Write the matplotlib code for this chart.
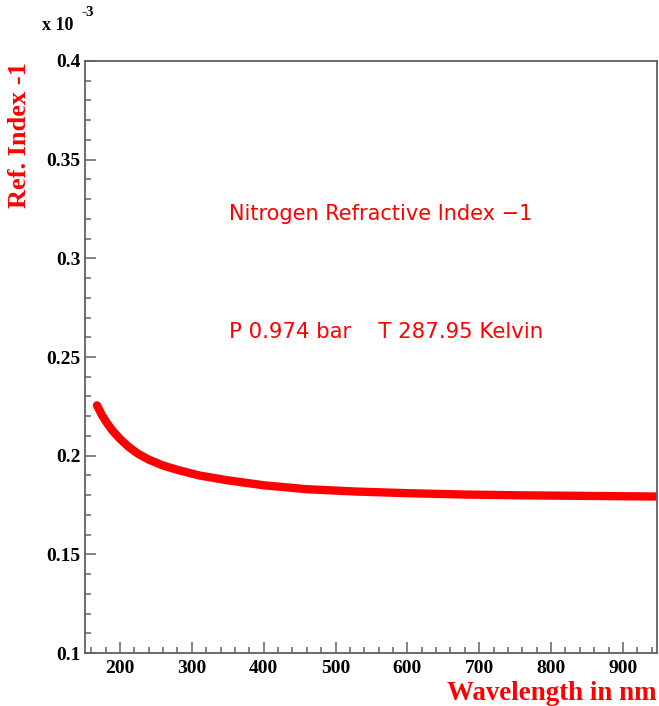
import matplotlib
matplotlib.use("Agg")
import matplotlib.pyplot as plt
from matplotlib.ticker import MultipleLocator

wavelength = [168, 175, 182, 190, 200, 212, 225, 240, 260, 283, 310, 350, 400, 460, 530, 600, 680, 760, 850, 947]
ref_index = [0.2255, 0.2205, 0.2165, 0.2125, 0.2085, 0.2045, 0.2010, 0.1980, 0.1950, 0.1925,
             0.1900, 0.1875, 0.1850, 0.1830, 0.1818, 0.1810, 0.1803, 0.1799, 0.1796, 0.1793]

W, H = 659, 706
fig = plt.figure(figsize=(W / 100, H / 100), dpi=100)
ax = fig.add_axes([85 / W, 1 - 653 / H, (657 - 85) / W, (653 - 61) / H])

ax.plot(wavelength, ref_index, color="#ff0000", lw=6, solid_capstyle="round", solid_joinstyle="round")

ax.set_xlim(151.3, 947.5)
ax.set_ylim(0.1, 0.4)
ax.xaxis.set_major_locator(MultipleLocator(100))
ax.xaxis.set_minor_locator(MultipleLocator(20))
ax.yaxis.set_major_locator(MultipleLocator(0.05))
ax.yaxis.set_minor_locator(MultipleLocator(0.01))
ax.yaxis.set_major_formatter(plt.FuncFormatter(lambda v, p: f"{v:g}"))

frame_col = "#606060"
for s in ax.spines.values():
    s.set_color(frame_col)
    s.set_linewidth(1.3)
ax.tick_params(which="both", direction="in", color=frame_col, width=1.1, right=False, top=False)
ax.tick_params(which="major", length=8)
ax.tick_params(which="minor", length=4.5)
ax.tick_params(axis="x", which="major", pad=5)
ax.tick_params(axis="y", which="major", pad=3)
for lab in ax.get_xticklabels() + ax.get_yticklabels():
    lab.set_fontfamily("Liberation Serif")
    lab.set_fontweight("bold")
    lab.set_fontsize(14)

fig.text(42 / W, 1 - 30 / H, "x 10", fontfamily="Liberation Serif", fontweight="bold", fontsize=13,
         ha="left", va="baseline")
fig.text(82 / W, 1 - 16 / H, "-3", fontfamily="Liberation Serif", fontweight="bold", fontsize=11,
         ha="left", va="baseline")

fig.text(20 / W, 1 - 62 / H, "Ref. Index -1", rotation=90, color="#ff0000",
         fontfamily="Liberation Serif", fontweight="bold", fontsize=19, ha="center", va="top")
fig.text(657 / W, 1 - 700 / H, "Wavelength in nm", color="#ff0000",
         fontfamily="Liberation Serif", fontweight="bold", fontsize=19.4, ha="right", va="baseline")

fig.text(229 / W, 1 - 220 / H, "Nitrogen Refractive Index \u22121", color="#ff0000",
         fontfamily="DejaVu Sans", fontsize=15, ha="left", va="baseline")
fig.text(229 / W, 1 - 338 / H, "P 0.974 bar    T 287.95 Kelvin", color="#ff0000",
         fontfamily="DejaVu Sans", fontsize=15.3, ha="left", va="baseline")

fig.savefig("out.png", dpi=100)
